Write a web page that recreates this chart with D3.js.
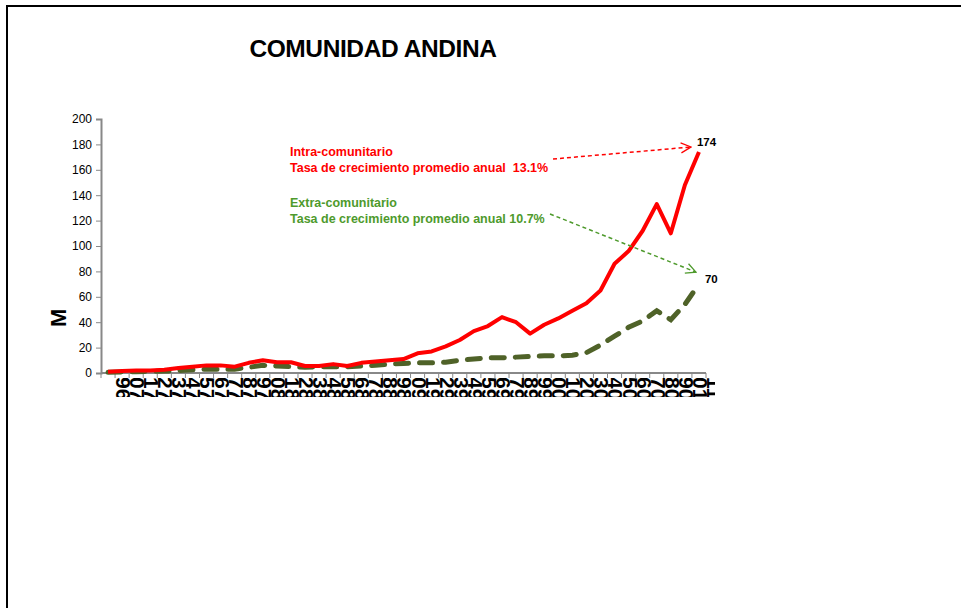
<!DOCTYPE html>
<html>
<head>
<meta charset="utf-8">
<script src="https://cdn.jsdelivr.net/npm/d3@7"></script>
<style>
  body { margin: 0; background: #fff; }
  svg { display: block; font-family: "Liberation Sans", Arial, sans-serif; }
  .note { white-space: pre; }
</style>
</head>
<body>
<div class="chart"></div>
<script>
/* global d3 */
const years = d3.range(1969, 2012).map(String);
// intra-comunitario (red)
const intra = [1, 1.5, 2, 2, 2.5, 4, 5, 6, 6, 5, 8, 10, 8.5, 8.5, 5.5, 5.5, 7, 5.5, 8, 9,
  10, 11, 15.5, 17, 21, 26, 33, 37, 44, 40, 31, 38, 43, 49, 55, 65, 86, 96, 112, 133, 110, 148, 174];
// extra-comunitario (green dashed)
const extra = [0.5, 0.8, 1, 1.2, 1.5, 2, 2.5, 3, 3, 3, 4.5, 6, 5.5, 5, 4.5, 5, 5, 5, 5.5, 6,
  7, 7.5, 8, 8, 8.5, 10, 11, 12, 12, 12.5, 13, 13.5, 13.5, 14, 16, 22, 29, 36, 41, 49, 42, 54, 70];
const yTicks = [0, 20, 40, 60, 80, 100, 120, 140, 160, 180, 200];
const title = "COMUNIDAD ANDINA";
const notes = [
  { lines: ["Intra-comunitario", "Tasa de crecimiento promedio anual  13.1%"], color: "#ff0000", endLabel: "174" },
  { lines: ["Extra-comunitario", "Tasa de crecimiento promedio anual 10.7%"], color: "#4e9a2c", endLabel: "70" }
];

const W = 961, H = 608;
const svg = d3.select(".chart").append("svg")
    .attr("width", W)
    .attr("height", H);

// outer frame
svg.append("rect")
    .attr("x", 7).attr("y", 6)
    .attr("width", 1000).attr("height", 700)
    .attr("fill", "none").attr("stroke", "#000").attr("stroke-width", 2);

svg.append("text")
    .attr("x", 373).attr("y", 57)
    .attr("text-anchor", "middle")
    .attr("font-size", 24.5).attr("font-weight", "bold")
    .attr("letter-spacing", -0.4)
    .text(title);

const x = d3.scaleBand().domain(years).range([101, 706]);
const y = d3.scaleLinear().domain([0, 200]).range([373, 119]);
const cx = d => x(d) + x.bandwidth() / 2;

// y axis
const yAx = svg.append("g")
    .attr("transform", "translate(101,0)")
    .call(d3.axisLeft(y).tickValues(yTicks).tickSize(5).tickPadding(4));
yAx.select(".domain").attr("stroke", "#888").attr("stroke-width", 2);
yAx.selectAll(".tick line").attr("stroke", "#888");
yAx.selectAll("text").attr("font-size", 12).attr("fill", "#000")
    .attr("font-family", "Liberation Sans, Arial, sans-serif");

// x axis with tick marks at category boundaries
const xAx = svg.append("g").attr("transform", "translate(0,373)");
xAx.append("line")
    .attr("x1", 101).attr("x2", 706)
    .attr("stroke", "#888").attr("stroke-width", 2);
xAx.selectAll("line.tk")
    .data(years.concat(["end"]))
    .join("line")
    .attr("class", "tk")
    .attr("x1", (d, i) => i < years.length ? x(d) : 706)
    .attr("x2", (d, i) => i < years.length ? x(d) : 706)
    .attr("y1", 0).attr("y2", 5)
    .attr("stroke", "#888");

// crowded year labels: clipped so only a glyph remains visible
svg.append("clipPath").attr("id", "xclip")
  .append("rect").attr("x", 95).attr("y", 378).attr("width", 620).attr("height", 19);
svg.append("g").attr("clip-path", "url(#xclip)")
  .selectAll("text")
  .data(years)
  .join("text")
    .attr("transform", d => `translate(${cx(d) + 8},377) rotate(90)`)
    .attr("text-anchor", "start")
    .attr("font-size", 21).attr("font-weight", "bold")
    .text(d => d.slice(3) + d.slice(2, 3));

// y axis title (clipped)
svg.append("clipPath").attr("id", "yclip")
  .append("rect").attr("x", 50).attr("y", 308).attr("width", 17).attr("height", 18);
svg.append("g").attr("clip-path", "url(#yclip)")
  .append("text")
    .attr("transform", "translate(66,327) rotate(-90)")
    .attr("font-size", 22).attr("font-weight", "bold")
    .text("MM US$");

// lines
const line = d3.line().x((d, i) => cx(years[i])).y(d => y(d));
svg.append("path")
    .attr("d", line(extra))
    .attr("fill", "none").attr("stroke", "#4f6228")
    .attr("stroke-width", 5).attr("stroke-linecap", "round")
    .attr("stroke-dasharray", "13,11");
svg.append("path")
    .attr("d", line(intra))
    .attr("fill", "none").attr("stroke", "#ff0000")
    .attr("stroke-width", 4).attr("stroke-linejoin", "round");

// annotations
const defs = svg.append("defs");
notes.forEach((n, k) => {
  defs.append("marker")
      .attr("id", "arr" + k)
      .attr("viewBox", "0 0 12 12")
      .attr("refX", 11).attr("refY", 6)
      .attr("markerWidth", 12).attr("markerHeight", 12)
      .attr("markerUnits", "userSpaceOnUse")
      .attr("orient", "auto")
    .append("path")
      .attr("d", "M1,1 L11,6 L1,11")
      .attr("fill", "none").attr("stroke", n.color).attr("stroke-width", 1.3);
});

const last = years.length - 1;
const t0 = svg.append("text").attr("class", "note").attr("fill", notes[0].color)
    .attr("font-size", 12.5).attr("font-weight", "bold");
t0.selectAll("tspan").data(notes[0].lines).join("tspan")
    .attr("x", 290).attr("y", (d, i) => 156 + i * 16).text(d => d);
const t1 = svg.append("text").attr("class", "note").attr("fill", notes[1].color)
    .attr("font-size", 12.5).attr("font-weight", "bold");
t1.selectAll("tspan").data(notes[1].lines).join("tspan")
    .attr("x", 290).attr("y", (d, i) => 207 + i * 16).text(d => d);

svg.append("line")
    .attr("x1", 553).attr("y1", 159)
    .attr("x2", cx(years[last]) - 8).attr("y2", y(intra[last]) - 5)
    .attr("stroke", notes[0].color).attr("stroke-width", 1.5)
    .attr("stroke-dasharray", "4,3")
    .attr("marker-end", "url(#arr0)");
svg.append("line")
    .attr("x1", 550).attr("y1", 214)
    .attr("x2", cx(years[last]) - 3).attr("y2", y(extra[last]) - 12)
    .attr("stroke", notes[1].color).attr("stroke-width", 1.5)
    .attr("stroke-dasharray", "4,3")
    .attr("marker-end", "url(#arr1)");

svg.append("text")
    .attr("x", cx(years[last]) - 2).attr("y", y(intra[last]) - 6)
    .attr("font-size", 11.5).attr("font-weight", "bold")
    .text(notes[0].endLabel);
svg.append("text")
    .attr("x", cx(years[last]) + 6).attr("y", y(extra[last]) - 1)
    .attr("font-size", 11.5).attr("font-weight", "bold")
    .text(notes[1].endLabel);
</script>
</body>
</html>
